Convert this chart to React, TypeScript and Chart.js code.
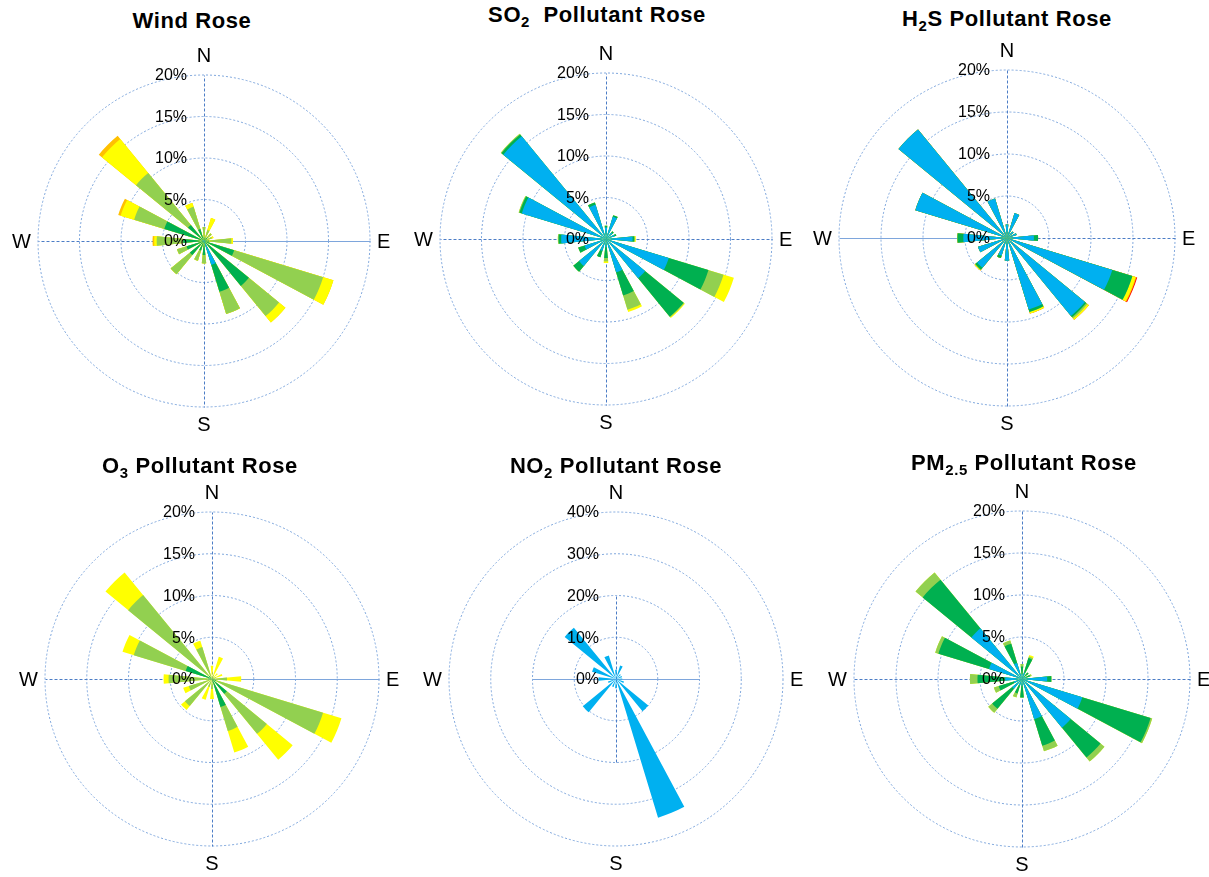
import React, { useEffect, useRef } from 'react';
import { Chart, registerables } from 'chart.js';

Chart.register(...registerables);

// ---------- data ----------
const DIRECTIONS = ['N', 'NNE', 'NE', 'ENE', 'E', 'ESE', 'SE', 'SSE', 'S', 'SSW', 'SW', 'WSW', 'W', 'WNW', 'NW', 'NNW'];
const COMPASS = ['N', 'E', 'S', 'W'];

// Wind Rose (percent of time per direction, per class)
const windBlue = [0.1, 0.1, 0.1, 0.1, 0.2, 0.2, 0.2, 3.0, 0.2, 0.1, 0.2, 0.1, 0.2, 0.2, 0.2, 0.1];
const windDkGreen = [0.4, 0.3, 0.5, 0.3, 0.4, 3.6, 6.8, 3.4, 1.5, 1.1, 2.0, 2.1, 2.3, 4.8, 2.3, 1.4];
const windLtGreen = [1.2, 1.0, 0.6, 0.6, 2.7, 11.2, 4.7, 2.8, 1.0, 1.3, 3.0, 1.2, 3.2, 3.8, 8.1, 2.8];
const windYellow = [0, 1.5, 0, 0.2, 0.2, 1.3, 1.0, 0, 0, 0, 0, 0, 0.3, 1.7, 5.3, 0.5];
const windOrange = [0, 0, 0, 0, 0, 0, 0, 0, 0, 0, 0, 0, 0.2, 0.3, 0.5, 0];

// SO2 Pollutant Rose
const so2Blue = [1.4, 2.8, 1.0, 1.1, 3.2, 7.9, 6.1, 4.2, 1.0, 1.5, 4.2, 2.7, 5.4, 10.6, 16.0, 4.3];
const so2DkGreen = [0.2, 0.2, 0.2, 0.2, 0.2, 5.0, 6.0, 2.9, 1.3, 0.8, 0.9, 0.8, 0.3, 0.3, 0.3, 0.3];
const so2LtGreen = [0, 0, 0, 0, 0.1, 1.9, 0.1, 1.8, 0.4, 0, 0, 0, 0.1, 0.1, 0.1, 0];
const so2Yellow = [0, 0, 0, 0, 0.1, 1.3, 0.1, 0.3, 0.2, 0, 0, 0, 0, 0, 0, 0];

// H2S Pollutant Rose
const h2sBlue = [1.6, 3.1, 1.0, 1.2, 3.2, 13.1, 12.0, 8.9, 2.7, 2.2, 4.6, 3.6, 5.2, 11.4, 16.7, 4.9];
const h2sDkGreen = [0, 0, 0, 0, 0.5, 2.5, 0.2, 0.3, 0, 0.3, 0.3, 0, 0.7, 0, 0, 0];
const h2sLtGreen = [0, 0, 0, 0, 0, 0, 0.2, 0, 0, 0, 0, 0, 0, 0, 0, 0];
const h2sYellow = [0, 0, 0, 0, 0, 0.4, 0.2, 0.2, 0, 0, 0.1, 0, 0, 0, 0, 0];
const h2sOrange = [0, 0, 0, 0, 0, 0.1, 0, 0, 0, 0, 0, 0, 0, 0, 0, 0];
const h2sRed = [0, 0, 0, 0, 0, 0.1, 0, 0, 0, 0, 0, 0, 0, 0, 0, 0];

// O3 Pollutant Rose
const o3DkGreen = [0, 0, 0, 0, 0, 0.5, 2.3, 3.5, 0, 0, 0, 0, 0.5, 3.3, 0.5, 0];
const o3LtGreen = [0.4, 0.5, 0.3, 0.5, 1.8, 13.4, 6.2, 3.0, 1.2, 1.0, 4.2, 2.9, 4.7, 6.5, 12.5, 4.0];
const o3Yellow = [1.2, 2.3, 0.6, 0.8, 1.7, 2.3, 4.0, 2.7, 1.2, 1.6, 0.6, 0.7, 0.6, 1.4, 3.5, 0.8];

// NO2 Pollutant Rose
const no2Blue = [2.2, 3.4, 1.5, 1.5, 1.5, 2.0, 10.0, 34.7, 2.2, 2.0, 10.3, 2.0, 4.2, 6.0, 15.9, 5.9];

// PM2.5 Pollutant Rose
const pmBlue = [0.6, 0.8, 0.4, 0.5, 3.0, 7.5, 7.5, 5.0, 0.8, 0.8, 1.5, 1.0, 2.0, 4.1, 7.8, 2.0];
const pmDkGreen = [0.9, 1.8, 0.6, 0.5, 0.5, 8.5, 4.6, 3.3, 1.4, 1.0, 3.1, 1.9, 3.3, 6.3, 7.5, 2.4];
const pmLtGreen = [0.3, 0.2, 0, 0.2, 0, 0.2, 0.6, 0.7, 0, 0.5, 0.6, 0.6, 0.9, 0.4, 1.1, 0.4];
const pmYellow = [0, 0.2, 0, 0, 0, 0, 0, 0, 0, 0, 0, 0, 0, 0, 0, 0];

// ---------- styles ----------
const C_BLUE = '#00B0F0';
const C_DKGREEN = '#00B050';
const C_LTGREEN = '#92D050';
const C_YELLOW = '#FFFF00';
const C_ORANGE = '#FFC000';
const C_RED = '#FF0000';
const GRID_COLOR = '#7EA6DC';
const AXIS_COLOR = '#4C7DC6';
const AXIS_SOLID_COLOR = '#7EA6DC';
const FONT = '"Liberation Sans", Arial, Helvetica, sans-serif';
const PAD = 36;

type Layer = { color: string; values: number[] };
type RoseCfg = {
  cx: number; cy: number; R: number; max: number; step: number; axisMax: number;
  solid: boolean[]; layers: Layer[];
};

const ROSES: RoseCfg[] = [
  {
    cx: 204, cy: 241, R: 166, max: 20, step: 5, axisMax: 20, solid: [false, true, false, false],
    layers: [
      { color: C_BLUE, values: windBlue }, { color: C_DKGREEN, values: windDkGreen },
      { color: C_LTGREEN, values: windLtGreen }, { color: C_YELLOW, values: windYellow },
      { color: C_ORANGE, values: windOrange },
    ],
  },
  {
    cx: 606, cy: 239, R: 166, max: 20, step: 5, axisMax: 20, solid: [false, false, false, false],
    layers: [
      { color: C_BLUE, values: so2Blue }, { color: C_DKGREEN, values: so2DkGreen },
      { color: C_LTGREEN, values: so2LtGreen }, { color: C_YELLOW, values: so2Yellow },
    ],
  },
  {
    cx: 1007, cy: 238, R: 168, max: 20, step: 5, axisMax: 20, solid: [false, false, false, true],
    layers: [
      { color: C_BLUE, values: h2sBlue }, { color: C_DKGREEN, values: h2sDkGreen },
      { color: C_LTGREEN, values: h2sLtGreen }, { color: C_YELLOW, values: h2sYellow },
      { color: C_ORANGE, values: h2sOrange }, { color: C_RED, values: h2sRed },
    ],
  },
  {
    cx: 212, cy: 679, R: 167, max: 20, step: 5, axisMax: 20, solid: [false, true, false, false],
    layers: [
      { color: C_DKGREEN, values: o3DkGreen }, { color: C_LTGREEN, values: o3LtGreen },
      { color: C_YELLOW, values: o3Yellow },
    ],
  },
  {
    cx: 616, cy: 679, R: 167, max: 40, step: 10, axisMax: 20, solid: [false, true, false, true],
    layers: [{ color: C_BLUE, values: no2Blue }],
  },
  {
    cx: 1022, cy: 679, R: 168, max: 20, step: 5, axisMax: 20, solid: [false, false, false, false],
    layers: [
      { color: C_BLUE, values: pmBlue }, { color: C_DKGREEN, values: pmDkGreen },
      { color: C_LTGREEN, values: pmLtGreen }, { color: C_YELLOW, values: pmYellow },
    ],
  },
];

const TITLES: { cx: number; cy: number; main: string; sub?: string; rest: string }[] = [
  { cx: 192, cy: 21, main: 'Wind Rose', rest: '' },
  { cx: 597, cy: 15, main: 'SO', sub: '2', rest: '  Pollutant Rose' },
  { cx: 1007, cy: 19, main: 'H', sub: '2', rest: 'S Pollutant Rose' },
  { cx: 200, cy: 466, main: 'O', sub: '3', rest: ' Pollutant Rose' },
  { cx: 616, cy: 466, main: 'NO', sub: '2', rest: ' Pollutant Rose' },
  { cx: 1024, cy: 463, main: 'PM', sub: '2.5', rest: ' Pollutant Rose' },
];

function Rose({ cfg }: { cfg: RoseCfg }) {
  const ref = useRef<HTMLCanvasElement>(null);

  useEffect(() => {
    const labels: string[] = [];
    DIRECTIONS.forEach((d) => { labels.push(d, ''); });
    const cum = new Array(DIRECTIONS.length).fill(0);
    const datasets = cfg.layers.map((layer, li) => {
      const data: number[] = [];
      for (let d = 0; d < DIRECTIONS.length; d++) {
        cum[d] += layer.values[d];
        data.push(Math.round(cum[d] * 1000) / 1000, 0);
      }
      return {
        label: 'class ' + li,
        data,
        backgroundColor: layer.color,
        borderWidth: 0,
        order: li,
      };
    });

    const decor = {
      id: 'roseDecor',
      beforeDatasetsDraw(chart: any) {
        const s = chart.scales.r;
        const ctx = chart.ctx;
        const L = s.getDistanceFromCenterForValue(cfg.axisMax);
        const dirs = [[0, -1], [1, 0], [0, 1], [-1, 0]];
        ctx.save();
        ctx.lineWidth = 1;
        dirs.forEach(([dx, dy], i) => {
          ctx.setLineDash(cfg.solid[i] ? [] : [3, 2]);
          ctx.strokeStyle = cfg.solid[i] ? AXIS_SOLID_COLOR : AXIS_COLOR;
          const x0 = s.xCenter + 0.5;
          const y0 = s.yCenter + 0.5;
          ctx.beginPath();
          ctx.moveTo(x0, y0);
          ctx.lineTo(x0 + dx * L, y0 + dy * L);
          ctx.stroke();
        });
        ctx.restore();
      },
      afterDatasetsDraw(chart: any) {
        const s = chart.scales.r;
        const ctx = chart.ctx;
        ctx.save();
        ctx.fillStyle = '#000';
        ctx.font = '16px ' + FONT;
        ctx.textAlign = 'right';
        ctx.textBaseline = 'middle';
        s.ticks.forEach((t: any) => {
          const r = s.getDistanceFromCenterForValue(t.value);
          ctx.fillText(t.value + '%', s.xCenter - 17, s.yCenter - r + 1);
        });
        const R = s.getDistanceFromCenterForValue(cfg.max);
        ctx.font = '20px ' + FONT;
        ctx.textAlign = 'center';
        ctx.fillText(COMPASS[0], s.xCenter, s.yCenter - R - 19);
        ctx.fillText(COMPASS[2], s.xCenter, s.yCenter + R + 18);
        ctx.textAlign = 'left';
        ctx.fillText(COMPASS[1], s.xCenter + R + 7, s.yCenter + 1);
        ctx.textAlign = 'right';
        ctx.fillText(COMPASS[3], s.xCenter - R - 7, s.yCenter + 1);
        ctx.restore();
      },
    };

    const chart = new Chart(ref.current as HTMLCanvasElement, {
      type: 'polarArea',
      data: { labels, datasets },
      options: {
        responsive: false,
        animation: false,
        layout: { padding: PAD },
        plugins: { legend: { display: false }, tooltip: { enabled: false }, title: { display: false } },
        scales: {
          r: {
            min: 0,
            max: cfg.max,
            startAngle: -5.625,
            ticks: { display: false, stepSize: cfg.step },
            grid: { color: GRID_COLOR, lineWidth: 1, circular: true, borderDash: [2, 2] },
            border: { dash: [2, 2] },
            angleLines: { display: false },
            pointLabels: { display: false },
          },
        },
      } as any,
      plugins: [decor],
    });
    return () => chart.destroy();
  }, [cfg]);

  const size = 2 * cfg.R + 2 * PAD;
  return (
    <canvas
      ref={ref}
      width={size}
      height={size}
      style={{ position: 'absolute', left: cfg.cx - cfg.R - PAD, top: cfg.cy - cfg.R - PAD, width: size, height: size }}
    />
  );
}

export default function App() {
  return (
    <div style={{ position: 'absolute', left: 0, top: 0, width: 1209, height: 877, overflow: 'hidden', background: '#fff' }}>
      {ROSES.map((cfg, i) => <Rose key={i} cfg={cfg} />)}
      {TITLES.map((t, i) => (
        <div
          key={'t' + i}
          style={{
            position: 'absolute', left: t.cx - 250, width: 500, top: t.cy - 13, height: 26, lineHeight: '26px',
            textAlign: 'center', whiteSpace: 'pre', fontFamily: FONT, fontWeight: 'bold', fontSize: 22,
            letterSpacing: 0.6, color: '#000',
          }}
        >
          {t.main}
          {t.sub ? (
            <span style={{ fontSize: '0.68em', position: 'relative', top: '0.34em', lineHeight: 0 }}>{t.sub}</span>
          ) : null}
          {t.rest}
        </div>
      ))}
    </div>
  );
}
